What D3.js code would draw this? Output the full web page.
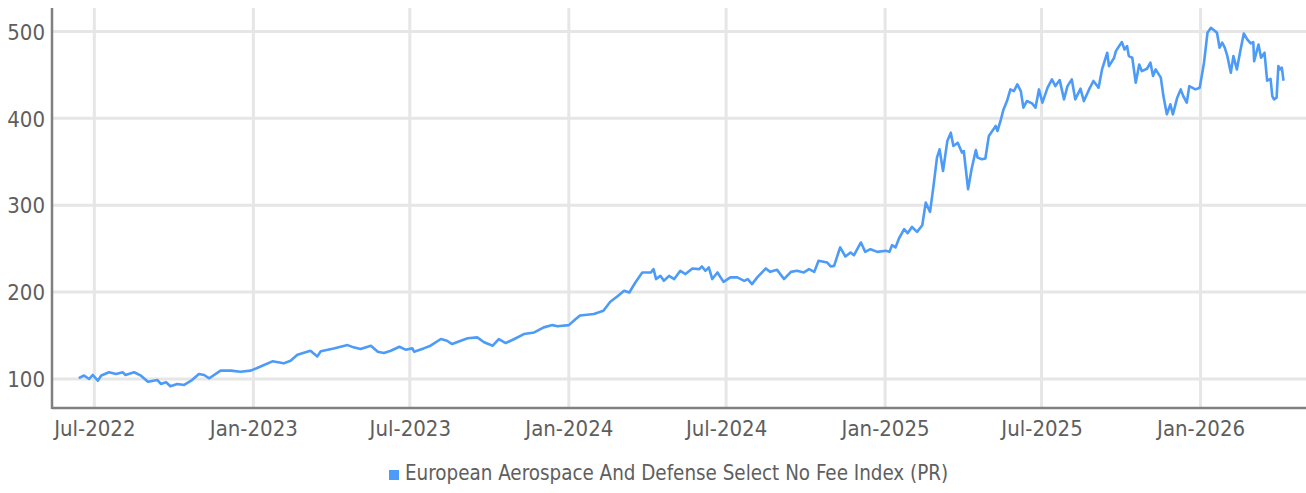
<!DOCTYPE html>
<html>
<head>
<meta charset="utf-8">
<script src="https://cdn.jsdelivr.net/npm/d3@7"></script>
<style>
  body { margin: 0; background: #fff; }
  svg text { font-family: "Liberation Sans Narrow", "DejaVu Sans Condensed", "Roboto Condensed", Roboto, sans-serif; fill: #5e5e5e; }
</style>
</head>
<body>
<svg id="chart" width="1306" height="493"></svg>
<script>
// values
var dates = [
  "2022-06-13","2022-06-19","2022-06-25","2022-06-29","2022-07-05","2022-07-09","2022-07-18","2022-07-26",
  "2022-08-03","2022-08-06","2022-08-16","2022-08-24","2022-09-01","2022-09-12","2022-09-16","2022-09-22",
  "2022-09-27","2022-10-05","2022-10-13","2022-10-21","2022-10-30","2022-11-05","2022-11-11","2022-11-24",
  "2022-12-06","2022-12-17","2022-12-29","2023-01-10","2023-01-23","2023-02-05","2023-02-13","2023-02-21",
  "2023-03-08","2023-03-16","2023-03-20","2023-04-04","2023-04-20","2023-04-27","2023-05-05","2023-05-17",
  "2023-05-25","2023-06-01","2023-06-09","2023-06-19","2023-06-26","2023-07-04","2023-07-06","2023-07-17",
  "2023-07-25","2023-08-06","2023-08-13","2023-08-19","2023-08-29","2023-09-06","2023-09-17","2023-09-25",
  "2023-10-05","2023-10-12","2023-10-20","2023-10-30","2023-11-10","2023-11-22","2023-12-03","2023-12-13",
  "2023-12-19","2024-01-01","2024-01-09","2024-01-14","2024-01-30","2024-02-10","2024-02-18","2024-02-26",
  "2024-03-05","2024-03-11","2024-03-18","2024-03-26","2024-04-05","2024-04-08","2024-04-11","2024-04-16",
  "2024-04-20","2024-04-26","2024-05-02","2024-05-09","2024-05-15","2024-05-23","2024-05-31","2024-06-03",
  "2024-06-07","2024-06-11","2024-06-15","2024-06-21","2024-06-28","2024-07-06","2024-07-14","2024-07-22",
  "2024-07-26","2024-07-31","2024-08-06","2024-08-16","2024-08-21","2024-08-29","2024-09-06","2024-09-14",
  "2024-09-21","2024-09-29","2024-10-05","2024-10-11","2024-10-16","2024-10-26","2024-10-30","2024-11-03",
  "2024-11-08","2024-11-10","2024-11-16","2024-11-22","2024-11-26","2024-12-04","2024-12-09","2024-12-15",
  "2024-12-23","2025-01-02","2025-01-06","2025-01-09","2025-01-13","2025-01-17","2025-01-23","2025-01-27",
  "2025-02-01","2025-02-07","2025-02-13","2025-02-17","2025-02-22","2025-02-26","2025-03-02","2025-03-05",
  "2025-03-09","2025-03-14","2025-03-18","2025-03-21","2025-03-26","2025-03-31","2025-04-02","2025-04-07",
  "2025-04-11","2025-04-16","2025-04-18","2025-04-23","2025-04-27","2025-05-01","2025-05-09","2025-05-11",
  "2025-05-15","2025-05-18","2025-05-22","2025-05-26","2025-05-30","2025-06-03","2025-06-07","2025-06-10",
  "2025-06-14","2025-06-20","2025-06-24","2025-06-28","2025-07-02","2025-07-08","2025-07-13","2025-07-17",
  "2025-07-22","2025-07-27","2025-07-31","2025-08-05","2025-08-09","2025-08-15","2025-08-19","2025-08-25",
  "2025-08-30","2025-09-05","2025-09-09","2025-09-15","2025-09-17","2025-09-23","2025-09-25","2025-09-30",
  "2025-10-02","2025-10-05","2025-10-08","2025-10-10","2025-10-14","2025-10-18","2025-10-22","2025-10-25",
  "2025-10-31","2025-11-04","2025-11-07","2025-11-10","2025-11-16","2025-11-19","2025-11-23","2025-11-27",
  "2025-11-30","2025-12-05","2025-12-09","2025-12-12","2025-12-16","2025-12-19","2025-12-26","2025-12-31",
  "2026-01-05","2026-01-09","2026-01-13","2026-01-18","2026-01-20","2026-01-23","2026-01-26","2026-01-29",
  "2026-02-01","2026-02-05","2026-02-08","2026-02-12","2026-02-16","2026-02-20","2026-02-24","2026-02-28",
  "2026-03-03","2026-03-04","2026-03-09","2026-03-12","2026-03-16","2026-03-19","2026-03-23","2026-03-25",
  "2026-03-27","2026-03-30","2026-04-01","2026-04-03","2026-04-05","2026-04-07"
];
var values = [
  101,104,100,104.6,98,104,107.7,105.7,
  107.7,104.6,107.7,103.8,96.9,98.8,94.3,96.2,
  91.6,94.3,93.1,98,105.7,104.6,100.8,109.6,
  109.6,108.4,109.6,114.6,120.3,118,121,128,
  132.5,126,132,135.2,139,136.4,134.5,138.3,
  131.4,129.9,132.5,137.1,133.7,135.2,131.4,135.2,
  138.3,146,144,140.2,144,146.8,147.9,142.2,
  138.3,146,141.4,146,151.7,153.6,159.4,162,
  160.6,162,169,173,174.7,178.5,188.9,195,
  201.5,199.6,211,222.6,222.6,226.4,215,218.7,
  213,218.7,215,224.5,220.7,227.2,226.4,229.5,
  224.5,228.4,215,222.6,211.8,216.9,216.9,213,
  215,209.2,216.9,227.2,223.3,225.6,215,223.3,
  224.5,222.6,226.4,223.3,236,234,229.5,230.2,
  245.6,251.4,241,245.6,242.5,257.1,246.3,249.4,
  246.3,247.5,246.3,254,251.4,261.7,272.4,267.8,
  275,269.3,277,303,292.3,322.2,354.8,364.4,
  339.4,373.9,383.5,368.2,372,360.5,362.4,318.4,
  341.4,363.6,354.8,352.9,353.7,379.7,391.2,385.4,
  398.9,410.3,419.9,433.3,431.4,439,431.4,412.3,
  419.9,417.2,412.3,433.3,418,435.3,444.8,437.1,
  444,421.8,437.1,444.8,421.8,434.1,419.9,433.3,
  443,435.3,456.3,475.5,460.1,469.7,477.4,485,
  487.7,479.3,483.1,471.6,469.7,441,462,454.4,
  457.1,464,448.7,456.3,446.8,425.6,404.6,416.1,
  404.6,423.8,433.3,425.6,418,437.1,433.3,435.3,
  464,498.5,504.2,500.3,498.5,481.3,487.1,481.3,
  471.6,452.5,471.6,456.3,477.4,497.7,490.8,486.2,
  487.7,465.9,485,469.7,475.5,443.3,445.5,425.6,
  421.8,423.8,460.1,456.3,458.3,443.3
];
var yTicks = [100, 200, 300, 400, 500];
var xTicks = ["2022-07-01","2023-01-01","2023-07-01","2024-01-01","2024-07-01","2025-01-01","2025-07-01","2026-01-01"];
var seriesName = "European Aerospace And Defense Select No Fee Index (PR)";

var parse = d3.timeParse("%Y-%m-%d");
var data = dates.map(function(d, i){ return {date: parse(d), value: values[i]}; });

var svg = d3.select("#chart");
var W = 1306, H = 493;
var m = {left: 52, top: 8, right: 0, bottom: 85};

var x = d3.scaleTime()
  .domain([parse("2022-05-13"), parse("2026-05-03")])
  .range([m.left, W - m.right]);
var y = d3.scaleLinear()
  .domain([66.6, 527])
  .range([H - m.bottom, m.top]);

var blue = "#4d9bf8";

// grid
svg.append("g").selectAll("line")
  .data(yTicks).enter().append("line")
    .attr("x1", m.left).attr("x2", W)
    .attr("y1", function(d){ return y(d); }).attr("y2", function(d){ return y(d); })
    .attr("stroke", "#e6e6e6").attr("stroke-width", 3);
svg.append("g").selectAll("line")
  .data(xTicks).enter().append("line")
    .attr("x1", function(d){ return x(parse(d)); }).attr("x2", function(d){ return x(parse(d)); })
    .attr("y1", m.top).attr("y2", H - m.bottom)
    .attr("stroke", "#e6e6e6").attr("stroke-width", 3);

// the series
var line = d3.line()
  .x(function(d){ return x(d.date); })
  .y(function(d){ return y(d.value); });
svg.append("path")
  .datum(data)
  .attr("d", line)
  .attr("fill", "none")
  .attr("stroke", blue)
  .attr("stroke-width", 2.6)
  .attr("stroke-linejoin", "round");

// axes
var yAxis = svg.append("g")
  .attr("transform", "translate(" + m.left + ",0)")
  .call(d3.axisLeft(y).tickValues(yTicks).tickSize(0).tickPadding(7));
var xAxis = svg.append("g")
  .attr("transform", "translate(0," + (H - m.bottom) + ")")
  .call(d3.axisBottom(x).tickValues(xTicks.map(parse)).tickFormat(d3.timeFormat("%b-%Y")).tickSize(0).tickPadding(12));

[yAxis, xAxis].forEach(function(a){
  a.select(".domain").attr("stroke", "#808080").attr("stroke-width", 2.5);
  a.selectAll("text").attr("font-size", 22).attr("fill", "#5e5e5e")
    .style("font-family", null);
});
yAxis.selectAll("text").attr("dy", "0.35em");
xAxis.select(".domain").attr("d", "M" + m.left + ",0H" + W);
yAxis.select(".domain").attr("d", "M0," + m.top + "V" + (H - m.bottom + 1));

// legend
var leg = svg.append("g").attr("transform", "translate(389,470)");
leg.append("rect").attr("width", 10).attr("height", 10).attr("fill", blue);
leg.append("text").attr("x", 16).attr("y", 10).attr("font-size", 20.4).text(seriesName);
</script>
</body>
</html>
